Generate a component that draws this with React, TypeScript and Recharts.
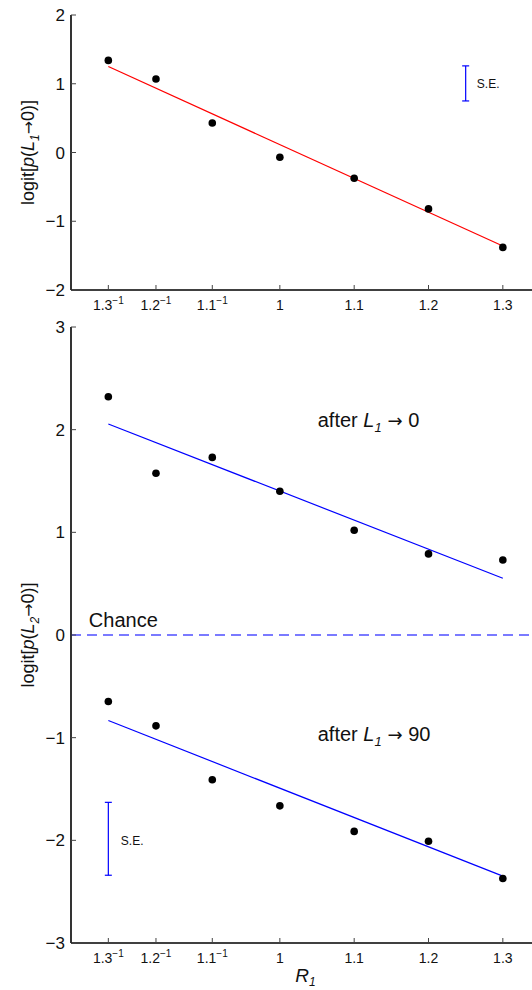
import {
  ComposedChart, Scatter, Line, XAxis, YAxis,
  ReferenceLine, ReferenceDot, ErrorBar, Label,
} from 'recharts';

const FONT = '"Liberation Sans", Arial, Helvetica, sans-serif';
const ARROW_FONT = '"DejaVu Sans", sans-serif';

// x positions: R1 values (ratios below 1 are shown as 1.x^-1)
const ratioTicks = [1 / 1.3, 1 / 1.2, 1 / 1.1, 1, 1.1, 1.2, 1.3];
const ratioBase = ['1.3', '1.2', '1.1', '1', '1.1', '1.2', '1.3'];
const ratioInverted = [true, true, true, false, false, false, false];
const fitEnds = [1 / 1.3, 1.3];
const xDomain = [0.719, 1.35];

// top panel: logit p(L1 -> 0)
const firstTurn = [1.34, 1.07, 0.43, -0.07, -0.375, -0.82, -1.38];
const firstFit = [1.25, -1.36];
const topYTicks = [-2, -1, 0, 1, 2];
const topSE = { x: 1.25, lo: 0.75, hi: 1.26 };

// bottom panel: logit p(L2 -> 0)
const afterZero = [2.32, 1.575, 1.73, 1.4, 1.02, 0.79, 0.73];
const afterZeroFit = [2.055, 0.553];
const afterNinety = [-0.648, -0.885, -1.41, -1.664, -1.913, -2.009, -2.372];
const afterNinetyFit = [-0.833, -2.349];
const bottomYTicks = [-3, -2, -1, 0, 1, 2, 3];
const bottomSE = { x: 1 / 1.3, lo: -2.34, hi: -1.63 };

const toPoints = (xs: number[], ys: number[]) => xs.map((x, i) => ({ x, y: ys[i] }));
const seRow = (s: { x: number; lo: number; hi: number }) => [
  { x: s.x, y: (s.lo + s.hi) / 2, err: (s.hi - s.lo) / 2 },
];
const fmt = (v: number) => (v < 0 ? `\u2212${Math.abs(v)}` : `${v}`);

const Dot = (p: any) => <circle cx={p.cx} cy={p.cy} r={3.8} fill="#000" />;
const NoShape = () => <g />;

const BottomTick = ({ x, y, payload }: any) => {
  const i = ratioTicks.findIndex((t) => Math.abs(t - payload.value) < 1e-6);
  return (
    <g>
      <line x1={x} x2={x} y1={y} y2={y - 5} stroke="#444" strokeWidth={1} />
      <text x={x} y={y + 20} textAnchor="middle" fontSize={14} fontFamily={FONT} fill="#111">
        {ratioBase[i]}
        {ratioInverted[i] && <tspan dy={-6} fontSize={10}>{'\u22121'}</tspan>}
      </text>
    </g>
  );
};

const TopTick = ({ x, y }: any) => (
  <line x1={x} x2={x} y1={y} y2={y + 5} stroke="#444" strokeWidth={1} />
);

const LeftTick = ({ x, y, payload }: any) => (
  <g>
    <line x1={x} x2={x + 5} y1={y} y2={y} stroke="#444" strokeWidth={1} />
    <text x={x - 6} y={y} dy="0.36em" textAnchor="end" fontSize={17} fontFamily={FONT} fill="#111">
      {fmt(payload.value)}
    </text>
  </g>
);

const yLabel = (sub: string) => (props: any) => {
  const vb = props.viewBox;
  const cx = vb.x + 28;
  const cy = vb.y + vb.height / 2;
  return (
    <text
      x={cx} y={cy} transform={`rotate(-90 ${cx} ${cy})`}
      textAnchor="middle" dy="0.35em" fontSize={18} fontFamily={FONT} fill="#111"
    >
      logit[<tspan fontStyle="italic">p</tspan>(<tspan fontStyle="italic">L</tspan>
      <tspan fontSize={12} dy={5} fontStyle="italic">{sub}</tspan>
      <tspan dy={-5} fontFamily={ARROW_FONT} fontSize={16}>{'\u2192'}</tspan>
      <tspan>0)]</tspan>
    </text>
  );
};

const xLabel = (props: any) => {
  const vb = props.viewBox;
  return (
    <text x={vb.x + vb.width / 2} y={vb.y + 39} textAnchor="middle" fontSize={19} fontFamily={FONT} fill="#111">
      <tspan fontStyle="italic">R</tspan>
      <tspan fontSize={12} dy={4} fontStyle="italic">1</tspan>
    </text>
  );
};

const note = (content: any, size = 20) => (p: any) => (
  <text x={p.cx} y={p.cy} dy="0.35em" fontSize={size} fontFamily={FONT} fill="#111">
    {content}
  </text>
);

const afterText = (target: string) => (
  <>
    after <tspan fontStyle="italic">L</tspan>
    <tspan fontSize={13} dy={5} fontStyle="italic">1</tspan>
    <tspan dy={-5} fontFamily={ARROW_FONT} fontSize={18}>{' \u2192 '}</tspan>
    <tspan>{target}</tspan>
  </>
);

const axisStroke = { stroke: '#000', strokeWidth: 1.6 };

const Axes = ({ yTicks, yDomain, sub, showXLabel, xHeight }: any) => [
  <XAxis
    key="xb" xAxisId={0} type="number" dataKey="x" domain={xDomain} ticks={ratioTicks}
    interval={0} tickSize={0} tickMargin={0} tickLine={false} height={xHeight}
    axisLine={axisStroke} tick={<BottomTick />} allowDataOverflow
  >
    {showXLabel && <Label content={xLabel} />}
  </XAxis>,
  <XAxis
    key="xt" xAxisId="top" orientation="top" type="number" dataKey="x" domain={xDomain}
    ticks={ratioTicks} interval={0} tickSize={0} tickMargin={0} tickLine={false}
    height={0} axisLine={axisStroke} tick={<TopTick />} allowDataOverflow
  />,
  <YAxis
    key="y" type="number" domain={yDomain} ticks={yTicks} interval={0} width={71}
    tickSize={0} tickMargin={0} tickLine={false} axisLine={axisStroke}
    tick={<LeftTick />} allowDataOverflow
  >
    <Label content={yLabel(sub)} />
  </YAxis>,
];

export default function App() {
  return (
    <div style={{ position: 'absolute', left: 0, top: 0, width: 532, height: 990, overflow: 'hidden', background: '#fff' }}>
      <div style={{ position: 'absolute', left: 0, top: 0 }}>
        <ComposedChart width={545} height={318} margin={{ top: 15, right: 5, bottom: 0, left: 0 }}>
          {Axes({ yTicks: topYTicks, yDomain: [-2, 2], sub: '1', showXLabel: false, xHeight: 28 })}
          <Line
            data={toPoints(fitEnds, firstFit)} dataKey="y" type="linear"
            stroke="#ff0000" strokeWidth={1.2} dot={false} isAnimationActive={false}
          />
          <Scatter data={toPoints(ratioTicks, firstTurn)} dataKey="y" shape={Dot} isAnimationActive={false} />
          <Scatter data={seRow(topSE)} dataKey="y" shape={NoShape} isAnimationActive={false}>
            <ErrorBar dataKey="err" direction="y" width={3.5} stroke="#0000ff" strokeWidth={1.2} />
          </Scatter>
          <ReferenceDot x={1.265} y={1.0} r={0} shape={note('S.E.', 12)} />
        </ComposedChart>
      </div>
      <div style={{ position: 'absolute', left: 0, top: 312 }}>
        <ComposedChart width={545} height={678} margin={{ top: 15, right: 5, bottom: 0, left: 0 }}>
          {Axes({ yTicks: bottomYTicks, yDomain: [-3, 3], sub: '2', showXLabel: true, xHeight: 47 })}
          <ReferenceLine y={0} stroke="#7a7aff" strokeWidth={2} strokeDasharray="10 6" />
          <Line
            data={toPoints(fitEnds, afterZeroFit)} dataKey="y" type="linear"
            stroke="#0000ff" strokeWidth={1.2} dot={false} isAnimationActive={false}
          />
          <Line
            data={toPoints(fitEnds, afterNinetyFit)} dataKey="y" type="linear"
            stroke="#0000ff" strokeWidth={1.2} dot={false} isAnimationActive={false}
          />
          <Scatter data={toPoints(ratioTicks, afterZero)} dataKey="y" shape={Dot} isAnimationActive={false} />
          <Scatter data={toPoints(ratioTicks, afterNinety)} dataKey="y" shape={Dot} isAnimationActive={false} />
          <Scatter data={seRow(bottomSE)} dataKey="y" shape={NoShape} isAnimationActive={false}>
            <ErrorBar dataKey="err" direction="y" width={3.5} stroke="#0000ff" strokeWidth={1.2} />
          </Scatter>
          <ReferenceDot x={0.786} y={-2.0} r={0} shape={note('S.E.', 12)} />
          <ReferenceDot x={0.743} y={0.146} r={0} shape={note('Chance')} />
          <ReferenceDot x={1.051} y={2.094} r={0} shape={note(afterText('0'))} />
          <ReferenceDot x={1.051} y={-0.96} r={0} shape={note(afterText('90'))} />
        </ComposedChart>
      </div>
    </div>
  );
}
